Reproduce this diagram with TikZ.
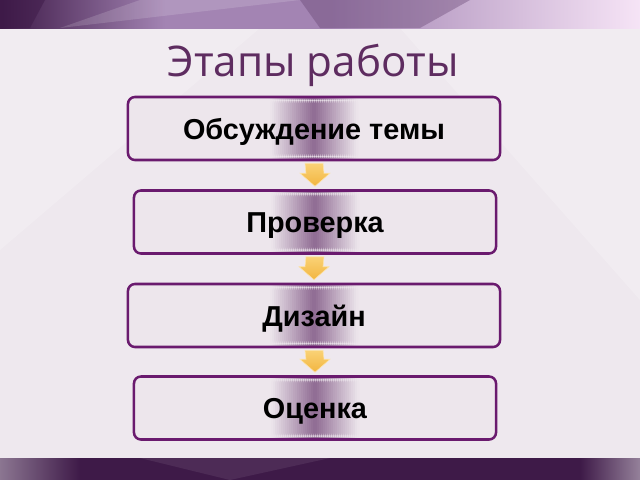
\documentclass[tikz,border=0pt]{standalone}
\usepackage{fontspec}
\setmainfont{Liberation Sans}
\newfontfamily\titlefont{Open Sans}
\usetikzlibrary{calc}

\definecolor{bandtop}{HTML}{A384B3}
\definecolor{banddark}{HTML}{3E1A48}
\definecolor{bandpale}{HTML}{F6E4F6}
\definecolor{pagefill}{HTML}{EEE8EE}
\definecolor{titlecol}{HTML}{5E2C60}
\definecolor{boxline}{HTML}{6A1A6E}
\definecolor{boxfill}{HTML}{EDE6EC}
\definecolor{stripcol}{HTML}{8E6A92}
\definecolor{arrowtop}{HTML}{FAD276}
\definecolor{arrowbot}{HTML}{F2B540}

\begin{document}
\begin{tikzpicture}[x=0.025cm, y=-0.025cm,
    stage/.style={draw=boxline, line width=1.8pt, rounded corners=5pt, fill=boxfill,
        minimum height=1.575cm, text height=17pt, text depth=2pt,
        font=\fontsize{20.5}{24}\selectfont\bfseries,
        path picture={
            \foreach \i in {-44,-42,...,42}{
                \pgfmathtruncatemacro\p{100*(1-abs(\i+1)/44)}
                \fill[stripcol!\p!boxfill] ($(path picture bounding box.north)+(\i,0)$)
                    rectangle ($(path picture bounding box.south)+(\i+2.3,0)$);
            }
        }},
    wide/.style={stage, minimum width=9.3cm},
    narrow/.style={stage, minimum width=9.05cm},
    flow/.style={top color=arrowtop, bottom color=arrowbot, draw=arrowtop!60!white, line width=0.4pt}]

\useasboundingbox (0,0) rectangle (640,480);

% background
\fill[pagefill] (0,0) rectangle (640,480);
\fill[white, opacity=0.2] (0,28) -- (260,28) -- (0,250) -- cycle;
\fill[white, opacity=0.2] (400,28) -- (640,28) -- (640,300) -- cycle;
\shade[left color=banddark, right color=bandtop, middle color=bandtop] (0,0) rectangle (330,28);
\shade[left color=bandtop, right color=bandpale] (330,0) rectangle (640,28);
\fill[banddark, opacity=0.5] (0,0) -- (45,0) -- (30,28) -- (0,28) -- cycle;
\fill[white, opacity=0.15] (60,28) -- (140,0) -- (300,0) -- cycle;
\fill[banddark!70!bandtop, opacity=0.35] (300,0) -- (470,0) -- (420,28) -- (320,28) -- cycle;
\shade[left color=banddark!60!white, right color=banddark] (0,458) rectangle (80,480);
\fill[banddark] (80,458) rectangle (580,480);
\shade[left color=banddark, right color=banddark!55!white] (580,458) rectangle (640,480);
\fill[white, opacity=0.08] (140,458) -- (330,458) -- (230,480) -- cycle;

% title
\node[text=titlecol, font=\titlefont\fontsize{30}{36}\selectfont] (title) at (313,65) {Этапы работы};

% stages
\node[wide]   (discuss) at (314,128.5) {Обсуждение темы};
\node[narrow] (check)   at (315,222)   {Проверка};
\node[wide]   (design)  at (314,315.5) {Дизайн};
\node[narrow] (rate)    at (315,408)   {Оценка};

% arrows
\foreach \a/\b in {discuss/check, check/design, design/rate}{
    \coordinate (tip) at ($(\b.north)+(0,-3)$);
    \path[flow] ($(\a.south)+(-9,2)$) -- ($(\a.south)+(9,2)$) -- ($(tip)+(9,-13)$)
        -- ($(tip)+(15,-13)$) -- (tip) -- ($(tip)+(-15,-13)$) -- ($(tip)+(-9,-13)$) -- cycle;
}
\end{tikzpicture}
\end{document}
